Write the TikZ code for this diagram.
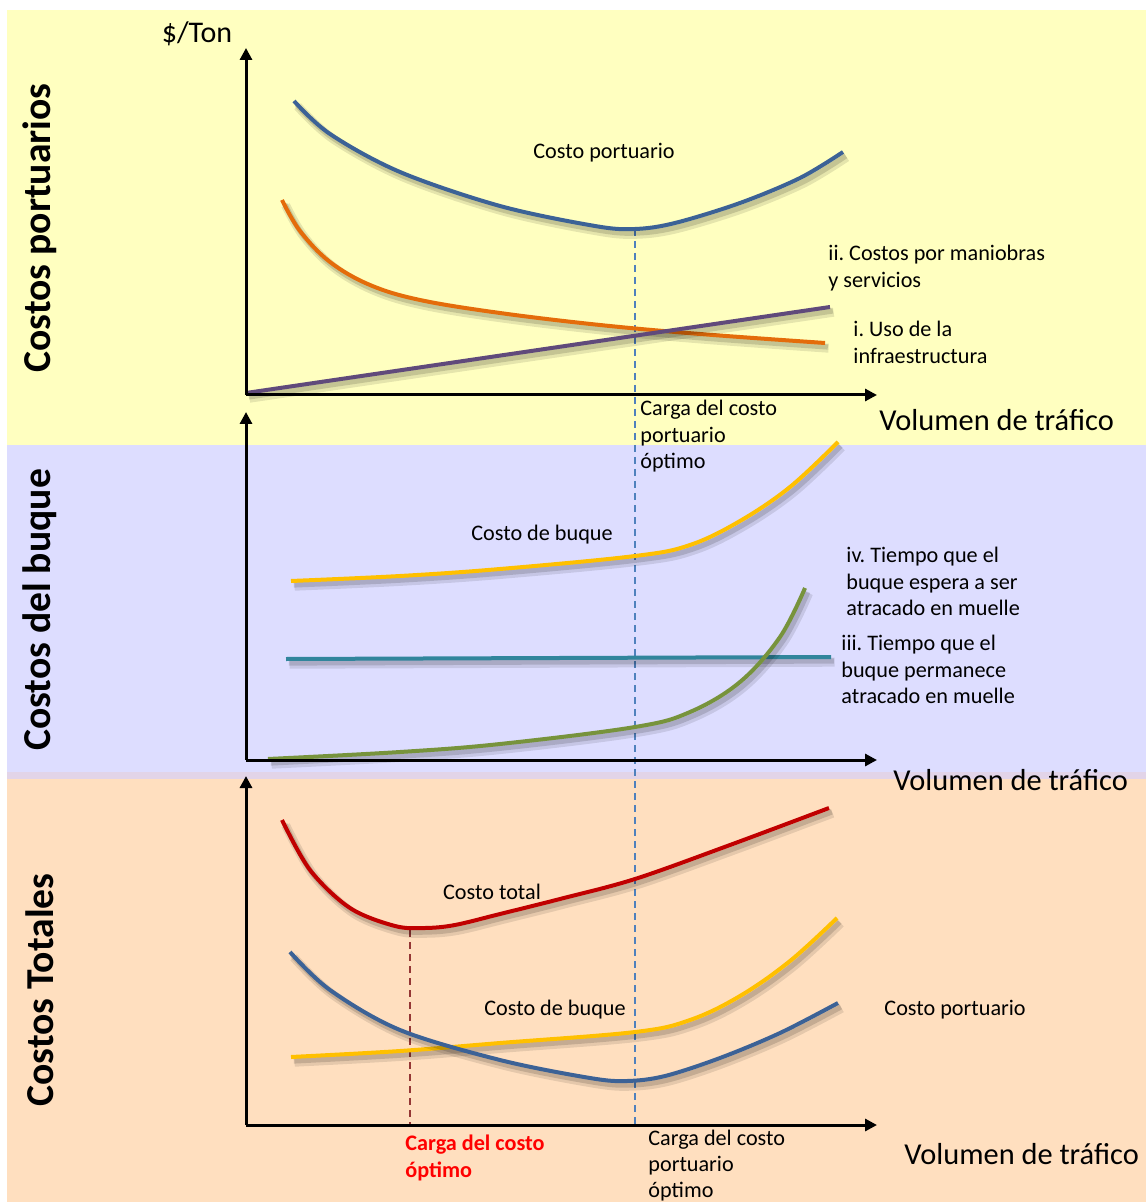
\documentclass[tikz,border=0pt]{standalone}
\usepackage{fontspec}
\setmainfont{Carlito}
\usetikzlibrary{arrows.meta}
\frenchspacing
\definecolor{bgY}{RGB}{255,255,192}
\definecolor{bgB}{RGB}{221,221,255}
\definecolor{bgP}{RGB}{255,223,191}
\definecolor{bgS}{RGB}{226,212,232}
\definecolor{cBlue}{RGB}{60,98,150}
\definecolor{cOrange}{RGB}{228,108,10}
\definecolor{cPurple}{RGB}{96,74,123}
\definecolor{cYellow}{RGB}{255,192,0}
\definecolor{cTeal}{RGB}{49,133,156}
\definecolor{cGreen}{RGB}{119,147,60}
\definecolor{cRed}{RGB}{192,0,0}
\definecolor{cDash}{RGB}{79,129,189}
\definecolor{cDashR}{RGB}{149,55,53}
\definecolor{cLabR}{RGB}{255,0,0}
\tikzset{
  curve/.style={line width=2pt,
    preaction={draw=black, opacity=0.10, line width=4.5pt, transform canvas={xshift=1.8pt,yshift=-2.6pt}},
    preaction={draw=black, opacity=0.14, line width=2.6pt, transform canvas={xshift=1.4pt,yshift=-2pt}}},
  axis/.style={line width=1.5pt, -{Triangle[length=6pt,width=6pt]}},
  lab/.style={inner sep=0pt, font=\fontsize{11.1}{13.25}\selectfont},
  mlab/.style={lab, align=left, anchor=north west},
  vol/.style={inner sep=0pt, anchor=west, font=\fontsize{15.2}{17}\selectfont},
  panel/.style={inner sep=0pt, rotate=90, font=\fontsize{19.8}{22}\selectfont\bfseries},
  vdash/.style={line width=0.6pt, dash pattern=on 3.5pt off 2.5pt}
}
\begin{document}
\begin{tikzpicture}[x=0.5pt,y=-0.5pt]
\useasboundingbox (0,0) rectangle (1146,1202);
% backgrounds
\fill[bgY] (7,10) rectangle (1146,445);
\fill[bgB] (7,445) rectangle (1146,772);
\fill[bgS] (7,772) rectangle (1146,779);
\fill[bgP] (7,779) rectangle (1146,1202);

% panel titles
\node[panel] (t1) at (40,228) {Costos portuarios};
\node[panel] (t2) at (40,610) {Costos del buque};
\node[panel] (t3) at (40,990) {Costos Totales};

% coordinates for axes
\coordinate (o1) at (246,395);
\coordinate (y1) at (246,48);
\coordinate (x1) at (877,395);
\coordinate (o2) at (246,760);
\coordinate (y2) at (246,412);
\coordinate (x2) at (877,760);
\coordinate (o3) at (246,1125);
\coordinate (y3) at (246,776);
\coordinate (x3) at (877,1125);

% dashed guide lines
\coordinate (pmin) at (635,229);
\coordinate (pbot) at (635,1125);
\coordinate (tmin) at (410,930);
\coordinate (tbot) at (410,1125);
\draw[vdash, cDash] (pmin) -- (pbot);
\draw[vdash, cDashR] (tmin) -- (tbot);

% ---- top panel curves
\draw[curve, cOrange] plot[smooth, tension=0.6] coordinates {(282,200) (300,231) (330,262) (370,285) (420,300) (500,313) (600,325) (700,334) (825,343)};
\draw[curve, cBlue] plot[smooth, tension=0.55] coordinates {(294,101) (330,134) (400,172) (500,206) (595,226) (635,229) (675,223) (740,203) (800,178) (843,152)};
\coordinate (pu1) at (246,393);
\coordinate (pu2) at (830,307);
\draw[curve, cPurple] (pu1) -- (pu2);

% ---- middle panel curves
\coordinate (te1) at (286,659);
\coordinate (te2) at (831,657);
\draw[curve, cTeal] (te1) -- (te2);
\draw[curve, cYellow] plot[smooth, tension=0.6] coordinates {(291,581) (400,576) (500,569) (635,556) (690,545) (740,521) (790,487) (838,442)};
\draw[curve, cGreen] plot[smooth, tension=0.6] coordinates {(268,759) (400,752) (500,744) (635,727) (690,712) (740,682) (780,637) (805,588)};

% ---- bottom panel curves
\draw[curve, cYellow] plot[smooth, tension=0.6] coordinates {(291,1057) (400,1051) (500,1043) (635,1032) (690,1020) (740,996) (790,961) (837,918)};
\draw[curve, cBlue] plot[smooth, tension=0.55] coordinates {(290,952) (330,990) (400,1030) (500,1060) (590,1078) (627,1081) (665,1076) (720,1058) (780,1033) (838,1003)};
\draw[curve, cRed] plot[smooth, tension=0.55] coordinates {(282,820) (310,870) (350,908) (395,926) (425,928) (455,925) (500,914) (560,899) (635,879) (730,845) (829,808)};

% axes
\draw[axis] (o1) -- (y1);
\draw[axis] (o1) -- (x1);
\draw[axis] (o2) -- (y2);
\draw[axis] (o2) -- (x2);
\draw[axis] (o3) -- (y3);
\draw[axis] (o3) -- (x3);

% labels top
\node[inner sep=0pt, font=\fontsize{15}{17}\selectfont] (ton) at (197,34) {\$/Ton};
\node[lab] (lcp) at (604,153) {Costo portuario};
\node[mlab] (lii) at (828,245) {ii. Costos por maniobras\\y servicios};
\node[mlab] (li) at (853,321) {i. Uso de la\\infraestructura};
\node[mlab] (lcarga1) at (640,400) {Carga del costo\\portuario\\óptimo};
\node[vol] (v1) at (879,420) {Volumen de tráfico};

% labels middle
\node[lab] (lcb) at (542,535) {Costo de buque};
\node[mlab] (liv) at (846,547) {iv. Tiempo que el\\buque espera a ser\\atracado en muelle};
\node[mlab] (liii) at (841,635) {iii. Tiempo que el\\buque permanece\\atracado en muelle};
\node[vol] (v2) at (893,780) {Volumen de tráfico};

% labels bottom
\node[lab] (lct) at (492,892) {Costo total};
\node[lab] (lcb2) at (555,1010) {Costo de buque};
\node[lab, anchor=west] (lcp2) at (884,1010) {Costo portuario};
\node[mlab, text=cLabR, font=\fontsize{11.1}{13.25}\selectfont\bfseries] (lopt) at (405,1135) {Carga del costo\\óptimo};
\node[mlab, font=\fontsize{11.1}{12.9}\selectfont] (lcarga2) at (648,1130) {Carga del costo\\portuario\\óptimo};
\node[vol] (v3) at (904,1154) {Volumen de tráfico};
\end{tikzpicture}
\end{document}
